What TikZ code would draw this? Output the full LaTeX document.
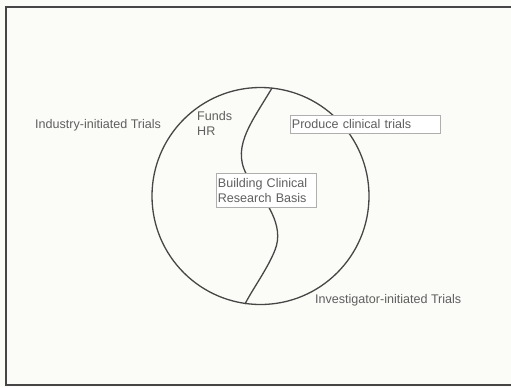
\documentclass[tikz,border=0pt]{standalone}
\usepackage{fontspec}
\setmainfont{Liberation Sans}
\usepackage{xcolor}
\usetikzlibrary{positioning}
\definecolor{inkgray}{RGB}{70, 70, 70}
\definecolor{textgray}{RGB}{95, 95, 95}
\definecolor{boxgray}{RGB}{175, 175, 175}
\definecolor{paper}{RGB}{251, 251, 247}

\begin{document}
\begin{tikzpicture}[
    x=1bp, y=-1bp,
    label/.style={inner sep=0pt, text=textgray, font=\fontsize{12.6}{15}\selectfont, align=left},
    textbox/.style={label, draw=boxgray, line width=0.8bp, fill=white, inner sep=1.5bp},
    ring/.style={circle, draw=inkgray, line width=1.3bp, minimum size=217bp, inner sep=0pt},
    divide/.style={draw=inkgray, line width=1.3bp}
]
    % Page and frame
    \fill[paper] (0,0) rectangle (511,387);
    \useasboundingbox (0,0) rectangle (511,387);
    \draw[inkgray, line width=1.5bp] (511,7) -| (6,385) -- (511,385);

    % Circle and dividing curve
    \node[ring] (circ) at (260.5,196) {};
    \coordinate (top) at (272,88);
    \coordinate (bottom) at (245,304);
    \draw[divide] (top) .. controls (250,125) and (229,150) .. (250,180)
        .. controls (265,200) and (285,225) .. (275,250)
        .. controls (268,268) and (252,290) .. (bottom);

    % Labels
    \node[label, anchor=west] (industry) at (35,125) {Industry-initiated Trials};
    \node[label, anchor=north west] (funds) at (197,111) {Funds\\HR};
    \node[textbox, anchor=west, text width=147bp, minimum height=18bp] (produce) at (290,124) {Produce clinical trials};
    \node[textbox, anchor=north west, text width=97bp, minimum height=34bp] (basis) at (216,173) {Building Clinical\\Research Basis};
    \node[label, anchor=west] (investigator) at (315,300) {Investigator-initiated Trials};

\end{tikzpicture}
\end{document}
